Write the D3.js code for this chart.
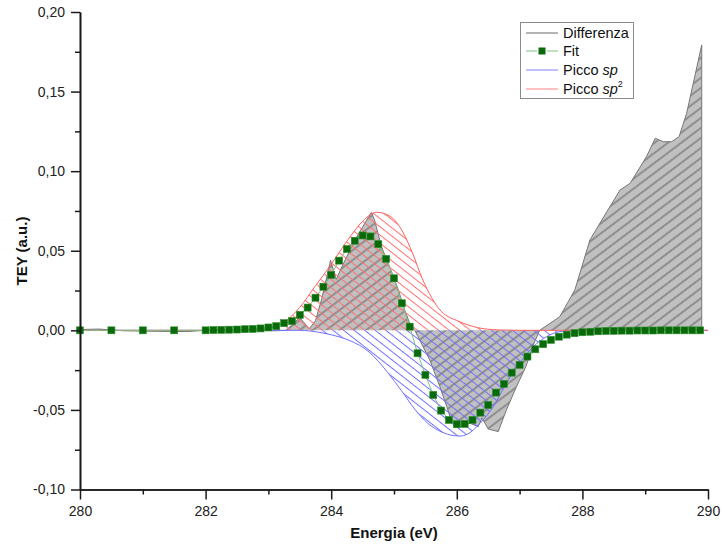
<!DOCTYPE html>
<html><head><meta charset="utf-8">
<script src="https://cdn.jsdelivr.net/npm/d3@7"></script>
<style>
body{margin:0;background:#fff}
svg{display:block}
text{font-family:"Liberation Sans",Arial,sans-serif}
</style>
</head><body>
<svg id="c" width="724" height="546"></svg>
<script>
// ---- data ----
const fitX = [280,280.5,281,281.5,282,282.125,282.25,282.375,282.5,282.625,282.75,282.875,
  283,283.125,283.25,283.375,283.5,283.625,283.75,283.875,284,284.125,284.25,284.375,284.5,284.625,284.75,284.875,
  285,285.125,285.25,285.375,285.5,285.625,285.75,285.875,286,286.125,286.25,286.375,286.5,286.625,286.75,286.875,
  287,287.125,287.25,287.375,287.5,287.625,287.75,287.875,288,288.125,288.25,288.375,288.5,288.625,288.75,288.875,
  289,289.125,289.25,289.375,289.5,289.625,289.75,289.875];
const fitY = [0,0,0,0,0,0.0002,0.0003,0.0004,0.0005,0.0007,0.0009,0.0012,
  0.0018,0.0026,0.0045,0.0058,0.0097,0.0143,0.0205,0.0274,0.0348,0.0438,0.0511,0.0563,0.0596,0.0590,0.0541,0.0449,
  0.0327,0.0170,0.0023,-0.0144,-0.0280,-0.0406,-0.0504,-0.0563,-0.0590,-0.0588,-0.0563,-0.0517,-0.0469,-0.0391,-0.0337,-0.0266,
  -0.0217,-0.0165,-0.0119,-0.0087,-0.0060,-0.0040,-0.0027,-0.0018,-0.0012,-0.0009,-0.0006,-0.0004,-0.0003,-0.0002,-0.0002,-0.0001,
  -0.0001,-0.0001,0,0,0,0,0,0];

const diffX = [280,280.3,280.7,281.2,281.7,282,282.4,282.8,283.1,283.28,283.5,283.65,283.75,283.85,283.99,284.08,284.16,284.3,284.44,284.64,
  284.69,284.8,284.93,285.07,285.17,285.26,285.33,285.57,285.73,285.84,285.91,286.05,286.21,286.34,286.4,286.5,286.66,286.79,286.95,
  287.1,287.23,287.32,287.64,287.88,288.12,288.39,288.6,288.76,289.02,289.16,289.29,289.42,289.54,289.66,289.9,289.9];
const diffY = [0.0005,0.0008,-0.0003,-0.0006,-0.0008,0,-0.0002,0.0005,-0.0003,0,0.008,0.001,0.006,0.02,0.044,0.032,0.039,0.0505,0.061,0.0741,
  0.0694,0.0526,0.040,0.0253,0.0128,0.0034,0,-0.0186,-0.0354,-0.048,-0.0563,-0.0605,-0.0584,-0.0605,-0.055,-0.062,-0.0636,-0.050,-0.0354,
  -0.0228,-0.008,0,0.0086,0.0254,0.0568,0.0746,0.0882,0.0924,0.1091,0.1207,0.1185,0.1185,0.1217,0.1364,0.1793,0];

const spX = [280,283.5,283.8,284,284.3,284.6,284.9,285.12,285.33,285.54,285.75,285.96,286.05,286.16,286.37,286.58,286.79,287,287.22,287.43,287.64,287.9,290];
const spY = [0,0,-0.0012,-0.0028,-0.0065,-0.0135,-0.0265,-0.038,-0.0495,-0.0585,-0.0637,-0.0662,-0.0664,-0.0654,-0.0584,-0.048,-0.0332,-0.0207,-0.0102,-0.004,-0.0008,-0.0001,0];

const sp2X = [280,282.5,282.8,283,283.25,283.5,283.75,284,284.25,284.5,284.72,284.94,285.14,285.3,285.45,285.6,285.75,285.9,286,286.1,286.4,286.7,287,290];
const sp2Y = [0,0,0.0005,0.0012,0.005,0.0145,0.028,0.0415,0.056,0.0685,0.0742,0.0716,0.0618,0.048,0.0325,0.0205,0.012,0.0078,0.0062,0.0045,0.0012,0.0002,0,0];

const xTicks = [280,282,284,286,288,290];
const xMinor = [281,283,285,287,289];
const yTicks = [-0.10,-0.05,0,0.05,0.10,0.15,0.20];
const yMinor = [-0.075,-0.025,0.025,0.075,0.125,0.175];
const legendLabels = ["Differenza","Fit","Picco sp","Picco sp2"];

// ---- chart ----
const svg = d3.select("#c");
const x = d3.scaleLinear().domain([280,290]).range([80,708]);
const y = d3.scaleLinear().domain([-0.10,0.20]).range([489.5,12]);
const zip = (xs,ys)=>xs.map((v,i)=>[v,ys[i]]);
const diff = zip(diffX,diffY), fit = zip(fitX,fitY), sp = zip(spX,spY), sp2 = zip(sp2X,sp2Y);

const defs = svg.append("defs");
function hatch(id, angle, color, bg, spacing, w){
  const p = defs.append("pattern").attr("id",id).attr("patternUnits","userSpaceOnUse")
    .attr("width",spacing).attr("height",spacing).attr("patternTransform",`rotate(${angle})`);
  if(bg) p.append("rect").attr("width",spacing).attr("height",spacing).attr("fill",bg);
  p.append("line").attr("x1",0).attr("x2",spacing).attr("y1",spacing/2).attr("y2",spacing/2)
    .attr("stroke",color).attr("stroke-width",w);
}
hatch("hGray",-37,"#666","#c0c0c0",8,1.1);
hatch("hRed",38,"#ff7070",null,6.5,1);
hatch("hBlue",38,"#7070ff",null,6.5,1);

const area = d3.area().x(d=>x(d[0])).y0(y(0)).y1(d=>y(d[1]));
const smoothArea = d3.area().curve(d3.curveMonotoneX).x(d=>x(d[0])).y0(y(0)).y1(d=>y(d[1]));
const line = d3.line().x(d=>x(d[0])).y(d=>y(d[1]));
const smoothLine = d3.line().curve(d3.curveMonotoneX).x(d=>x(d[0])).y(d=>y(d[1]));

// Differenza
svg.append("path").datum(diff).attr("d",area).attr("fill","url(#hGray)");
svg.append("path").datum(diff).attr("d",line).attr("fill","none").attr("stroke","#777").attr("stroke-width",1);
// Picco sp2 (red) and sp (blue) hatched areas
svg.append("path").datum(sp2).attr("d",smoothArea).attr("fill","url(#hRed)");
svg.append("path").datum(sp).attr("d",smoothArea).attr("fill","url(#hBlue)");
svg.append("path").datum(sp).attr("d",smoothLine).attr("fill","none").attr("stroke","#7070ff").attr("stroke-width",1);
svg.append("path").datum(sp2).attr("d",smoothLine).attr("fill","none").attr("stroke","#ff6060").attr("stroke-width",1);
// Fit
svg.append("path").datum(fit).attr("d",line).attr("fill","none").attr("stroke","#7cc47c").attr("stroke-width",1);
svg.append("g").selectAll("rect").data(fit).join("rect")
  .attr("x",d=>x(d[0])-3.5).attr("y",d=>y(d[1])-3.5).attr("width",7).attr("height",7)
  .attr("fill","#086a08").attr("stroke","#2f8f2f").attr("stroke-width",0.6);

// ---- axes ----
const fmt = v => d3.format(".2f")(v).replace(".",",").replace("\u2212","-");
const gx = svg.append("g").attr("transform",`translate(0,${y(-0.10)})`)
  .call(d3.axisBottom(x).tickValues(xTicks).tickSize(10).tickSizeOuter(0).tickPadding(7).tickFormat(d3.format("d")));
const gxm = svg.append("g").attr("transform",`translate(0,${y(-0.10)})`)
  .call(d3.axisBottom(x).tickValues(xMinor).tickSize(5).tickSizeOuter(0).tickFormat(""));
const gy = svg.append("g").attr("transform",`translate(${x(280)},0)`)
  .call(d3.axisLeft(y).tickValues(yTicks).tickSize(9).tickSizeOuter(0).tickPadding(6).tickFormat(fmt));
const gym = svg.append("g").attr("transform",`translate(${x(280)},0)`)
  .call(d3.axisLeft(y).tickValues(yMinor).tickSize(5).tickSizeOuter(0).tickFormat(""));
[gx,gxm,gy,gym].forEach(g=>{
  g.select(".domain").attr("stroke","#1a1a1a").attr("stroke-width",1.6);
  g.selectAll(".tick line").attr("stroke","#1a1a1a").attr("stroke-width",1.5);
  g.selectAll(".tick text").attr("fill","#222").style("font-size","14px").style("font-family","'Liberation Sans',Arial,sans-serif");
});

// axis titles
svg.append("text").attr("x",394).attr("y",538).attr("text-anchor","middle")
  .style("font-size","15px").style("font-weight","bold").attr("fill","#111").text("Energia (eV)");
svg.append("text").attr("transform","translate(27,251) rotate(-90)").attr("text-anchor","middle")
  .style("font-size","15px").style("font-weight","bold").attr("fill","#111").text("TEY (a.u.)");

// ---- legend ----
const lg = svg.append("g");
lg.append("rect").attr("x",520.5).attr("y",22.5).attr("width",113).attr("height",76)
  .attr("fill","#fff").attr("stroke","#8a8a8a").attr("stroke-width",1);
const rowsY = [33,51,70,89];
const lx1 = 526, lx2 = 558, tx = 563;
lg.append("line").attr("x1",lx1).attr("x2",lx2).attr("y1",rowsY[0]).attr("y2",rowsY[0]).attr("stroke","#9a9a9a").attr("stroke-width",1.5);
lg.append("line").attr("x1",lx1).attr("x2",537).attr("y1",rowsY[1]).attr("y2",rowsY[1]).attr("stroke","#7cc47c").attr("stroke-width",1);
lg.append("line").attr("x1",547).attr("x2",lx2).attr("y1",rowsY[1]).attr("y2",rowsY[1]).attr("stroke","#7cc47c").attr("stroke-width",1);
lg.append("rect").attr("x",538.5).attr("y",rowsY[1]-3.5).attr("width",7).attr("height",7).attr("fill","#086a08");
lg.append("line").attr("x1",lx1).attr("x2",lx2).attr("y1",rowsY[2]).attr("y2",rowsY[2]).attr("stroke","#8080ff").attr("stroke-width",1);
lg.append("line").attr("x1",lx1).attr("x2",lx2).attr("y1",rowsY[3]).attr("y2",rowsY[3]).attr("stroke","#ff8080").attr("stroke-width",1);

function ltext(i){ return lg.append("text").attr("x",tx).attr("y",rowsY[i]+5).style("font-size","14.5px").attr("fill","#111"); }
ltext(0).text(legendLabels[0]);
ltext(1).text(legendLabels[1]);
const t2 = ltext(2); t2.append("tspan").text("Picco "); t2.append("tspan").style("font-style","italic").text("sp");
const t3 = ltext(3); t3.append("tspan").text("Picco "); t3.append("tspan").style("font-style","italic").text("sp");
t3.append("tspan").attr("dy",-7).style("font-size","9px").text("2");
</script>
</body></html>
